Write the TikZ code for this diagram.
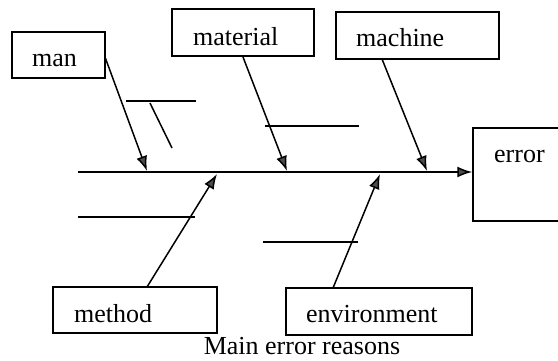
\documentclass[tikz,border=0pt]{standalone}
\usepackage{fontspec}
\setmainfont{Liberation Serif}
\usetikzlibrary{arrows.meta}
\begin{document}
\begin{tikzpicture}[x=1pt,y=-1pt,
  box/.style={draw,line width=1.5pt,inner sep=0pt},
  lbl/.style={anchor=base west,inner sep=0pt,font=\fontsize{26}{30}\selectfont},
  bone/.style={line width=1.5pt},
  cause/.style={line width=1.5pt,-{Latex[length=15pt,width=11pt,fill=black!70]}}]
\useasboundingbox (0,0) rectangle (558,361);
% boxes
\node[box,minimum width=93pt,minimum height=46pt] (manbox) at (58.5,55) {};
\node[box,minimum width=142pt,minimum height=47pt] (matbox) at (243,32.5) {};
\node[box,minimum width=163pt,minimum height=47pt] (macbox) at (417.5,35.5) {};
\node[box,minimum width=92pt,minimum height=93pt] (errbox) at (519,174.5) {};
\node[box,minimum width=164pt,minimum height=46pt] (metbox) at (135,310) {};
\node[box,minimum width=186pt,minimum height=47pt] (envbox) at (379,311.5) {};
% labels
\node[lbl] (man) at (32,67) {man};
\node[lbl] (mat) at (193,46) {material};
\node[lbl] (mac) at (356,47) {machine};
\node[lbl] (err) at (494,163) {error};
\node[lbl] (met) at (74,322) {method};
\node[lbl] (env) at (306,322) {environment};
\node[anchor=base,inner sep=0pt,font=\fontsize{26}{30}\selectfont] (cap) at (302,354) {Main error reasons};
% spine
\coordinate (spS) at (78,172);
\draw[cause] (spS) -- (errbox.west |- spS);
% cause arrows
\coordinate (manS) at (105,57);
\coordinate (manT) at (147,171);
\draw[cause] (manS) -- (manT);
\coordinate (matS) at (243,57);
\coordinate (matT) at (287,171);
\draw[cause] (matS) -- (matT);
\coordinate (macS) at (382,59);
\coordinate (macT) at (427,171);
\draw[cause] (macS) -- (macT);
\coordinate (metS) at (147,287);
\coordinate (metT) at (217,174);
\draw[cause] (metS) -- (metT);
\coordinate (envS) at (333,288);
\coordinate (envT) at (380,174);
\draw[cause] (envS) -- (envT);
% sub-bones
\coordinate (b1a) at (126,101); \coordinate (b1b) at (196,101);
\draw[bone] (b1a) -- (b1b);
\coordinate (b2a) at (150,103); \coordinate (b2b) at (172,148);
\draw[bone] (b2a) -- (b2b);
\coordinate (b3a) at (265,126); \coordinate (b3b) at (359,126);
\draw[bone] (b3a) -- (b3b);
\coordinate (b4a) at (78,217); \coordinate (b4b) at (195,217);
\draw[bone] (b4a) -- (b4b);
\coordinate (b5a) at (263,242); \coordinate (b5b) at (358,242);
\draw[bone] (b5a) -- (b5b);
\end{tikzpicture}
\end{document}
